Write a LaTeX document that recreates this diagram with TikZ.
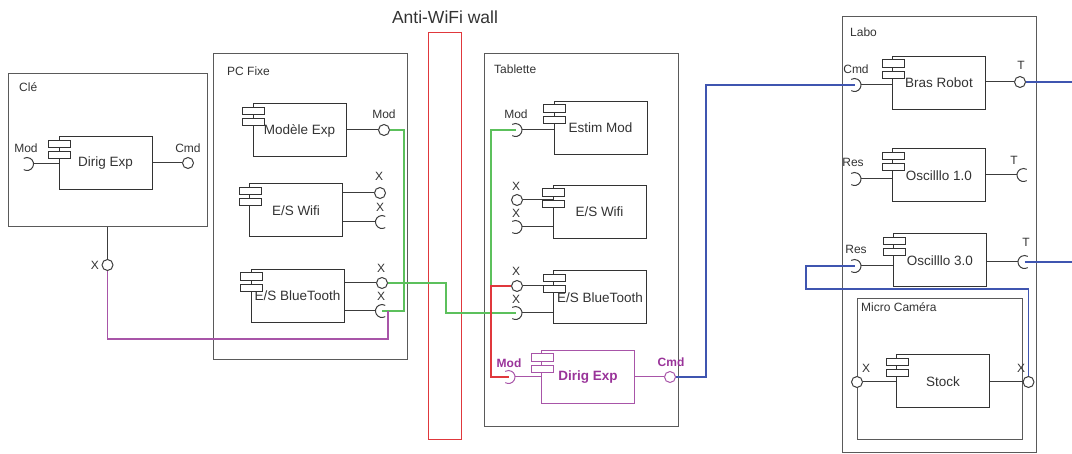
\documentclass[tikz,border=0pt]{standalone}
\usepackage{fontspec}
\setmainfont{Liberation Sans}
\usetikzlibrary{positioning}
\definecolor{ink}{HTML}{333333}
\definecolor{frame}{HTML}{5A5A5A}
\definecolor{wire}{HTML}{3C3C3C}
\definecolor{plum}{HTML}{993399}
\definecolor{plumline}{HTML}{A855A8}
\definecolor{leaf}{HTML}{5CC05C}
\definecolor{wallred}{HTML}{E0383C}
\definecolor{cable}{HTML}{3F55B0}

\tikzset{
  box/.style={draw=frame,line width=1pt,inner sep=0pt},
  comp/.style={draw=ink,line width=1pt,minimum width=93pt,minimum height=53pt,inner sep=0pt,
    font=\fontsize{13.5}{16}\selectfont,text=ink},
  title/.style={anchor=west,inner sep=0pt,font=\fontsize{12}{14}\selectfont,text=ink},
  tag/.style={inner sep=0pt,font=\fontsize{12}{14}\selectfont,text=ink},
  lolli/.style={circle,draw=wire,line width=1pt,fill=white,minimum size=11pt,inner sep=0pt},
  sockL/.pic={\draw[pic actions] (120:6.5) arc (120:-120:6.5);},
  sockR/.pic={\draw[pic actions] (60:6.5) arc (60:300:6.5);},
  link/.style={draw=wire,line width=1pt},
  lead/.style={line width=1.05pt},
}

\newcommand{\compicon}[2][ink]{%
  \draw[draw=#1,line width=1pt,fill=white] ([xshift=-10pt,yshift=-4pt]#2.north west) rectangle ++(22,7.5);
  \draw[draw=#1,line width=1pt,fill=white] ([xshift=-10pt,yshift=-15.5pt]#2.north west) rectangle ++(22,7);}

\begin{document}
\begin{tikzpicture}[x=1pt,y=-1pt]
\useasboundingbox (0,0) rectangle (1072,454);

% wall
\node[draw=wallred,line width=1pt,minimum width=33pt,minimum height=407pt,inner sep=0pt] (wall) at (444.5,236.5) {};
\node[tag,font=\fontsize{17.5}{20}\selectfont] (walltitle) at (445,17) {Anti-WiFi wall};

% containers
\node[box,minimum width=199pt,minimum height=153pt] (cle) at (107.5,150.5) {};
\node[title] (cletitle) at (19,87) {Clé};
\node[box,minimum width=194pt,minimum height=306pt] (pc) at (310,207) {};
\node[title] (pctitle) at (227,71) {PC Fixe};
\node[box,minimum width=194pt,minimum height=373pt] (tab) at (581,240.5) {};
\node[title] (tabtitle) at (494,69) {Tablette};
\node[box,minimum width=194pt,minimum height=436pt] (labo) at (939,235) {};
\node[title] (labotitle) at (850,32) {Labo};
\node[box,minimum width=165pt,minimum height=141pt] (micro) at (939.5,369.5) {};
\node[title] (microtitle) at (861,307) {Micro Caméra};

% components
\node[comp] (cledir) at (105.5,163.5) {Dirig Exp};
\node[comp] (pcmod) at (299.5,130.5) {Modèle Exp};
\node[comp] (pcwifi) at (296,210.5) {E/S Wifi};
\node[comp] (pcbt) at (297.5,296) {E/S BlueTooth};
\node[comp] (tabest) at (600.5,128) {Estim Mod};
\node[comp] (tabwifi) at (599.5,212) {E/S Wifi};
\node[comp] (tabbt) at (600,297.5) {E/S BlueTooth};
\node[comp,draw=plumline,text=plum,font=\bfseries\fontsize{13.5}{16}\selectfont] (tabdir) at (588,377) {Dirig Exp};
\node[comp] (robot) at (939,83) {Bras Robot};
\node[comp] (osc1) at (939,175.5) {Oscilllo 1.0};
\node[comp] (osc3) at (940,260.5) {Oscilllo 3.0};
\node[comp] (stock) at (943,381.5) {Stock};

% Cle
\coordinate (clemod) at (27,164);
\pic[draw=wire,line width=1pt] at (clemod) {sockL};
\draw[link] (cledir.west |- clemod) -- ([xshift=6.5pt]clemod);
\node[tag] (clemodt) at (26,148) {Mod};
\node[lolli] (clecmd) at (188,163) {};
\draw[link] (cledir.east |- clecmd) -- (clecmd);
\node[tag] (clecmdt) at (188,148) {Cmd};
\node[lolli] (clex) at (107.5,265) {};
\draw[link] (cle.south -| clex) -- (clex);
\node[tag] (clext) at (95,265) {X};

% PC Fixe
\node[lolli] (pcmodo) at (384,130) {};
\draw[link] (pcmod.east |- pcmodo) -- (pcmodo);
\node[tag] (pcmodt) at (384,114) {Mod};
\node[lolli] (pcwifio) at (380,193) {};
\draw[link] (pcwifi.east |- pcwifio) -- (pcwifio);
\node[tag] (pcwifiot) at (379,176) {X};
\coordinate (pcwifis) at (382,222);
\pic[draw=wire,line width=1pt] at (pcwifis) {sockR};
\draw[link] (pcwifi.east |- pcwifis) -- ([xshift=-6.5pt]pcwifis);
\node[tag] (pcwifist) at (380,207) {X};
\node[lolli] (pcbto) at (382,283) {};
\draw[link] (pcbt.east |- pcbto) -- (pcbto);
\node[tag] (pcbtot) at (381,268) {X};
\coordinate (pcbts) at (382,311);
\pic[draw=wire,line width=1pt] at (pcbts) {sockR};
\draw[link] (pcbt.east |- pcbts) -- ([xshift=-6.5pt]pcbts);
\node[tag] (pcbtst) at (381,296) {X};

% Tablette
\coordinate (tabests) at (515.5,130);
\pic[draw=wire,line width=1pt] at (tabests) {sockL};
\draw[link] (tabest.west |- tabests) -- ([xshift=6.5pt]tabests);
\node[tag] (tabestst) at (516,114) {Mod};
\node[lolli] (tabwifio) at (517,200) {};
\draw[link] (tabwifi.west |- tabwifio) -- (tabwifio);
\node[tag] (tabwifiot) at (516,186) {X};
\coordinate (tabwifis) at (515.5,227);
\pic[draw=wire,line width=1pt] at (tabwifis) {sockL};
\draw[link] (tabwifi.west |- tabwifis) -- ([xshift=6.5pt]tabwifis);
\node[tag] (tabwifist) at (516,213) {X};
\node[lolli] (tabbto) at (517,286) {};
\draw[link] (tabbt.west |- tabbto) -- (tabbto);
\node[tag] (tabbtot) at (516,271) {X};
\coordinate (tabbts) at (515.5,313);
\pic[draw=wire,line width=1pt] at (tabbts) {sockL};
\draw[link] (tabbt.west |- tabbts) -- ([xshift=6.5pt]tabbts);
\node[tag] (tabbtst) at (516,299) {X};
\coordinate (tabdirs) at (508.5,377);
\pic[draw=plumline,line width=1pt] at (tabdirs) {sockL};
\draw[link,draw=plumline] (tabdir.west |- tabdirs) -- ([xshift=6.5pt]tabdirs);
\node[tag,text=plum,font=\bfseries\fontsize{12}{14}\selectfont] (tabdirst) at (509,363) {Mod};
\node[lolli,draw=plumline] (tabdiro) at (670,377) {};
\draw[link,draw=plumline] (tabdir.east |- tabdiro) -- (tabdiro);
\node[tag,text=plum,font=\bfseries\fontsize{12}{14}\selectfont] (tabdirot) at (671,362) {Cmd};

% Labo
\coordinate (robots) at (854.5,85);
\pic[draw=wire,line width=1pt] at (robots) {sockL};
\draw[link] (robot.west |- robots) -- ([xshift=6.5pt]robots);
\node[tag] (robotst) at (856,69) {Cmd};
\node[lolli] (roboto) at (1020,82) {};
\draw[link] (robot.east |- roboto) -- (roboto);
\node[tag] (robotot) at (1021,65) {T};
\coordinate (osc1s) at (854.5,179);
\pic[draw=wire,line width=1pt] at (osc1s) {sockL};
\draw[link] (osc1.west |- osc1s) -- ([xshift=6.5pt]osc1s);
\node[tag] (osc1st) at (853,162) {Res};
\coordinate (osc1t) at (1023.5,175);
\pic[draw=wire,line width=1pt] at (osc1t) {sockR};
\draw[link] (osc1.east |- osc1t) -- ([xshift=-6.5pt]osc1t);
\node[tag] (osc1tt) at (1014,160) {T};
\coordinate (osc3s) at (854.5,266);
\pic[draw=wire,line width=1pt] at (osc3s) {sockL};
\draw[link] (osc3.west |- osc3s) -- ([xshift=6.5pt]osc3s);
\node[tag] (osc3st) at (856,249) {Res};
\coordinate (osc3t) at (1024.5,262);
\pic[draw=wire,line width=1pt] at (osc3t) {sockR};
\draw[link] (osc3.east |- osc3t) -- ([xshift=-6.5pt]osc3t);
\node[tag] (osc3tt) at (1026,242) {T};
\node[lolli] (stockl) at (857,382) {};
\draw[link] (stockl) -- (stock.west |- stockl);
\node[tag] (stocklt) at (866,368) {X};
\node[lolli] (stockr) at (1028.5,382) {};
\draw[link] (stock.east |- stockr) -- (stockr);
\node[tag] (stockrt) at (1021,368) {X};

% links
\coordinate (east1) at (1072,82);
\coordinate (east2) at (1072,262);
\draw[leaf,lead] (pcmodo) -- ++(20,0) |- (pcbts);
\draw[leaf,lead] (pcbto) -- ++(64,0) |- (tabbts);
\draw[plumline,lead] (clex) -- ++(0,74) -| ([xshift=6pt]pcbts);
\draw[leaf,lead] (tabests) -- ++(-24.5,0) |- (tabbto);
\draw[wallred,lead] (tabbto) -- ++(-26,0) |- (tabdirs);
\draw[cable,lead] (tabdiro) -- ++(36,0) |- (robots);
\draw[cable,lead] (osc3s) -- ++(-48.5,0) -- ++(0,23) -| (stockr);
\draw[cable,lead] (roboto) -- (east1);
\draw[cable,lead] (osc3t) -- (east2);

% component icons
\foreach \c in {cledir,pcmod,pcwifi,pcbt,tabest,tabwifi,tabbt,robot,osc1,osc3,stock}
  {\compicon{\c}}
\compicon[plumline]{tabdir}
\end{tikzpicture}
\end{document}
